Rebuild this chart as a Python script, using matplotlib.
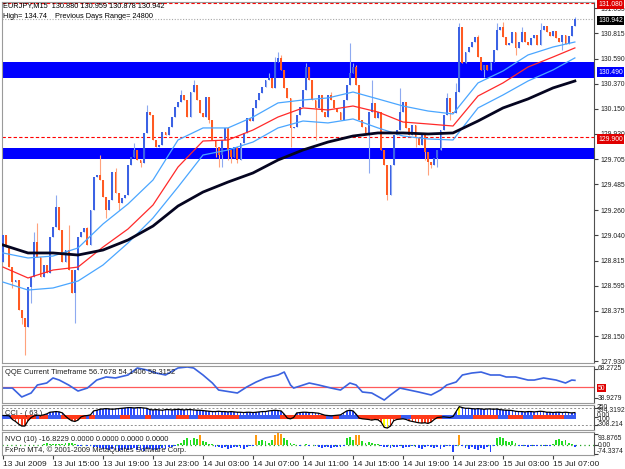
import numpy as np
import matplotlib
matplotlib.use('Agg')
import matplotlib.pyplot as plt
from matplotlib.patches import Rectangle

plt.rcParams['font.family'] = ['Liberation Sans', 'DejaVu Sans']

# EURJPY M15, 184 bars from 13 Jul 11:00 to 15 Jul 08:45
first_open = 128.802
closes = [
    129.040, 128.934, 128.758, 128.626, 128.644, 128.380, 128.310, 128.230, 128.582, 128.670,
    128.978, 128.846, 128.670, 128.776, 128.706, 129.022, 129.110, 129.286, 129.084, 128.802,
    128.908, 128.732, 128.530, 128.732, 129.022, 129.066, 129.102, 128.952, 129.260, 129.550,
    129.568, 129.524, 129.374, 129.260, 129.348, 129.594, 129.410, 129.322, 129.366, 129.392,
    129.656, 129.726, 129.788, 129.700, 129.674, 129.938, 130.122, 130.096, 129.876, 129.814,
    129.832, 129.946, 129.920, 129.990, 130.078, 130.166, 130.210, 130.272, 130.228, 130.078,
    130.298, 130.360, 130.228, 130.114, 130.078, 130.254, 130.052, 129.876, 129.814, 129.744,
    129.876, 129.982, 129.788, 129.726, 129.814, 129.700, 129.850, 129.938, 130.070, 130.043,
    130.158, 130.228, 130.290, 130.342, 130.404, 130.422, 130.334, 130.562, 130.598, 130.492,
    130.334, 130.246, 129.982, 129.990, 130.096, 130.166, 130.316, 130.518, 130.404, 130.228,
    130.158, 130.272, 130.122, 130.078, 130.272, 130.228, 130.158, 130.122, 130.052, 130.228,
    130.360, 130.466, 130.518, 130.360, 130.052, 129.990, 129.938, 130.122, 130.202, 130.070,
    130.122, 129.788, 129.656, 129.392, 129.656, 129.920, 129.964, 130.122, 130.210, 129.982,
    129.920, 130.008, 129.894, 129.832, 129.920, 129.770, 129.682, 129.656, 129.718, 129.788,
    129.964, 130.096, 130.246, 130.122, 130.114, 130.298, 130.870, 130.554, 130.650, 130.694,
    130.738, 130.782, 130.606, 130.492, 130.536, 130.492, 130.562, 130.668, 130.844, 130.870,
    130.782, 130.712, 130.730, 130.826, 130.686, 130.738, 130.826, 130.738, 130.712, 130.774,
    130.800, 130.712, 130.844, 130.879, 130.826, 130.791, 130.835, 130.774, 130.738, 130.800,
    130.721, 130.791, 130.880, 130.942,
]
# wicks that reach past the body
wick_highs = {
    10: 129.066, 11: 129.146, 17: 129.392, 21: 129.128, 27: 129.110, 31: 129.744, 36: 129.630,
    42: 129.850, 46: 130.184, 57: 130.316, 61: 130.404, 85: 130.466, 87: 130.606, 88: 130.650,
    89: 130.624, 97: 130.554, 105: 130.298, 111: 130.730, 112: 130.554, 113: 130.536,
    118: 130.404, 127: 130.334, 142: 130.290, 145: 130.378, 146: 130.906, 152: 130.800,
    158: 130.906, 160: 130.914, 166: 130.870, 172: 130.906, 183: 130.959,
}
wick_lows = {
    3: 128.574, 6: 128.258, 7: 127.984, 9: 128.442, 23: 128.266, 33: 129.190, 37: 129.260,
    44: 129.638, 66: 130.026, 68: 129.726, 69: 129.638, 70: 129.638, 72: 129.700, 73: 129.674,
    75: 129.674, 92: 129.814, 100: 129.876, 117: 129.586, 123: 129.348, 132: 129.814,
    135: 129.700, 136: 129.568, 137: 129.630, 139: 129.638, 143: 130.052, 154: 130.430,
    164: 130.624, 179: 130.668, 183: 130.878,
}

# moving averages, read every 8 bars
ma_idx = [0, 8, 16, 24, 32, 40, 48, 56, 64, 72, 80, 88, 96, 104, 112, 120, 128, 136, 144,
          152, 160, 168, 176, 183]
ma_slow = [128.952, 128.882, 128.882, 128.864, 128.908, 128.996, 129.119, 129.295, 129.418,
           129.506, 129.586, 129.700, 129.788, 129.858, 129.911, 129.938, 129.938, 129.929,
           129.938, 130.043, 130.158, 130.237, 130.334, 130.395]
ma_mid = [128.758, 128.662, 128.732, 128.758, 128.934, 129.093, 129.304, 129.638, 129.867,
          129.876, 129.964, 130.078, 130.158, 130.140, 130.175, 130.122, 130.034, 130.017,
          129.999, 130.263, 130.378, 130.518, 130.606, 130.686]
band_up = [128.882, 128.838, 128.855, 128.926, 129.137, 129.313, 129.524, 129.876, 129.982,
           129.982, 130.078, 130.202, 130.228, 130.246, 130.298, 130.237, 130.175, 130.131,
           130.105, 130.378, 130.483, 130.624, 130.694, 130.738]
band_dn = [128.626, 128.556, 128.574, 128.635, 128.776, 128.970, 129.190, 129.462, 129.744,
           129.788, 129.858, 129.982, 130.043, 130.026, 130.061, 129.982, 129.911, 129.885,
           129.876, 130.158, 130.272, 130.395, 130.492, 130.598]

price_ticks = [131.035, 130.815, 130.590, 130.370, 130.150, 129.930, 129.705, 129.485,
               129.260, 129.040, 128.815, 128.595, 128.375, 128.150, 127.930]
zones = [(130.422, 130.562), (129.708, 129.805)]

qqe_idx = [0, 3, 6, 9, 11, 14, 16, 18, 21, 24, 27, 30, 33, 36, 40, 43, 46, 49, 52, 56, 59, 61,
           64, 67, 69, 73, 75, 78, 81, 84, 88, 90, 92, 93, 95, 98, 101, 105, 108, 111, 113, 115,
           118, 122, 124, 127, 130, 133, 137, 140, 142, 145, 147, 150, 153, 156, 159, 161, 164,
           168, 170, 173, 177, 180, 182, 183]
qqe_val = [49.0, 49.0, 40.0, 44.0, 52.1, 54.1, 59.2, 57.1, 52.1, 46.0, 49.0, 57.1, 60.2, 59.2,
           62.2, 69.3, 67.3, 64.2, 62.2, 69.3, 70.3, 69.3, 62.2, 54.1, 47.0, 45.0, 44.0, 50.1,
           55.1, 59.2, 62.2, 65.2, 52.1, 49.0, 51.0, 54.1, 52.1, 49.0, 47.0, 54.1, 52.1, 45.0,
           44.0, 36.9, 42.0, 49.0, 47.0, 45.0, 42.0, 47.0, 52.1, 55.1, 62.2, 64.2, 65.2, 62.2,
           62.2, 60.2, 60.2, 57.1, 57.1, 59.2, 57.1, 54.1, 57.1, 56.8]

cci = [
    20, 20, 15, -40, -70, -110, -140, -140, -60, -10, 15, 25, 20, 30, 45, 70, 75, 80, 75, 60,
    10, -30, -60, -70, -50, 0, 15, 20, 30, 90, 100, 115, 120, 125, 120, 115, 120, 125, 130, 135,
    140, 140, 135, 140, 140, 135, 130, 110, 105, 110, 105, 100, 110, 110, 105, 110, 115, 110,
    105, 110, 110, 105, 100, 100, 95, 90, 85, 80, 80, 85, 80, 80, 75, 80, 75, 70, 70, 65, 70,
    70, 65, 70, 75, 80, 80, 90, 95, 100, 95, 90, 40, -20, -30, -10, 60, 65, 70, 70, 65, 65, 60,
    55, 40, 25, 20, 15, 20, 25, 30, 60, 90, 100, 90, 40, -20, -30, -35, -40, -50, -40, -45,
    -80, -160, -170, -140, -60, -40, -35, -30, -40, -60, -70, -80, -90, -95, -90, -100, -80,
    -40, -10, -5, 0, -5, -10, 5, 80, 155, 140, 130, 130, 125, 120, 125, 120, 115, 120, 120,
    115, 120, 110, 105, 100, 100, 95, 85, 80, 80, 75, 80, 80, 75, 80, 85, 80, 70, 70, 65, 70,
    70, 65, 70, 65, 60, 65,
]
cci_strip = [(0, 2, 'b'), (3, 10, 'r'), (11, 11, 'b'), (12, 14, 'r'), (15, 18, 'b'),
             (19, 26, 'r'), (27, 27, 'b'), (28, 29, 'r'), (30, 37, 'b'), (38, 40, 'r'),
             (41, 45, 'b'), (46, 47, 'r'), (48, 55, 'b'), (56, 59, 'r'), (60, 62, 'b'),
             (63, 75, 'r'), (76, 88, 'b'), (89, 103, 'r'), (104, 105, 'b'), (106, 107, 'r'),
             (108, 113, 'b'), (114, 127, 'r'), (128, 130, 'b'), (131, 140, 'r'),
             (141, 150, 'b'), (151, 158, 'r'), (159, 161, 'b'), (162, 166, 'r'),
             (167, 169, 'b'), (170, 179, 'r'), (180, 183, 'b')]

nvo = [
    0, 0, 0, 0, 0, 0, 0, 0, 0, 0, 0, 0, 0, 10, 15, 12, 8, 10, 12, 5, 20, 15, 18, 10, -5, -8, 0,
    -10, -12, -15, -20, -25, -30, -35, -40, -30, -45, -50, -40, -35, -45, -30, -25, -40, -45,
    -50, -35, -30, -40, -45, -30, -25, -35, -20, -15, -10, 5, 20, 45, 55, 40, 60, 50, 80, 30,
    25, 10, 5, -15, -20, -25, -20, -30, -25, -20, -15, -25, -30, -20, -10, -5, 85, 30, 40, 35,
    20, 40, 85, 100, 90, 60, 45, 20, 5, 0, -8, 0, 10, -5, 0, -10, -20, -25, -15, -20, -25, -20,
    -15, -20, -10, 60, 65, 40, 80, 85, 35, 20, 25, 15, 10, 5, -10, -15, -20, -25, -15, -20,
    -10, -25, -20, -15, -10, -20, -25, -30, -15, -10, -20, -25, -15, -30, -20, -10, -5, -60,
    -10, 80, -5, -25, -35, -20, -30, -40, -25, -35, -20, -55, -10, 60, 65, 55, 30, 25, 35, 20,
    -8, -12, -5, -15, -10, -8, -12, -5, -10, -8, -5, 5, 40, 50, 35, 45, 20, 10, -20,
]

time_ticks = [0, 16, 32, 48, 64, 80, 96, 112, 128, 144, 160, 176]
time_labels = ['13 Jul 2009', '13 Jul 15:00', '13 Jul 19:00', '13 Jul 23:00', '14 Jul 03:00',
               '14 Jul 07:00', '14 Jul 11:00', '14 Jul 15:00', '14 Jul 19:00', '14 Jul 23:00',
               '15 Jul 03:00', '15 Jul 07:00']

W, H = 625, 469
LBL = 4.9   # right-hand scale font size
fig = plt.figure(figsize=(W / 100, H / 100), dpi=100)
fig.patch.set_facecolor('white')


def box(x0, y0, x1, y1):
    return [x0 / W, 1 - y1 / H, (x1 - x0) / W, (y1 - y0) / H]


def fy(y):
    return 1 - y / H


ax = fig.add_axes(box(2, 2, 594, 363))
ax_q = fig.add_axes(box(2, 366, 594, 403))
ax_c = fig.add_axes(box(2, 405, 594, 430))
ax_n = fig.add_axes(box(2, 432, 594, 455))
for a in (ax, ax_q, ax_c, ax_n):
    a.set_xlim(-0.32, 189.12)
    for side in ('top', 'left', 'bottom'):
        a.spines[side].set_color('#9a9a9a')
    a.spines['right'].set_color('#505050')
    a.tick_params(axis='x', bottom=False, labelbottom=False)
    a.tick_params(axis='y', left=False, labelleft=False, right=True, labelright=False,
                  length=3, color='#404040', width=0.8)

# ---- main price chart
x = np.arange(len(closes))
c = np.array(closes)
o = np.r_[first_open, c[:-1]]
hi = np.maximum(o, c)
lo = np.minimum(o, c)
for k, v in wick_highs.items():
    hi[k] = v
for k, v in wick_lows.items():
    lo[k] = v
up = c >= o

for z0, z1 in zones:
    ax.axhspan(z0, z1, color='#0000ff', zorder=0.5, lw=0)
ax.axhline(131.080, color='red', ls=(0, (3, 2)), lw=0.8, zorder=1)
ax.axhline(129.900, color='red', ls=(0, (3, 2)), lw=0.8, zorder=1)
ax.axhline(130.942, color='#a8a8a8', ls=(0, (1, 1.5)), lw=0.8, zorder=1)

ax.vlines(x, lo, hi, colors=np.where(up, '#8eaaf0', '#ffa27c'), lw=0.8, zorder=2)
ax.bar(x, np.maximum(np.abs(c - o), 0.006), bottom=np.minimum(o, c), width=0.62,
       color=np.where(up, '#3c62e4', '#ff5a22'), lw=0, zorder=3)

ax.plot(ma_idx, band_up, color='#4aa6ff', lw=0.9, zorder=4)
ax.plot(ma_idx, band_dn, color='#4aa6ff', lw=0.9, zorder=4)
ax.plot(ma_idx, ma_mid, color='#ff2a2a', lw=0.9, zorder=4)
ax.plot(ma_idx, ma_slow, color='#050520', lw=2.0, zorder=5)

ax.set_ylim(127.914, 131.090)
ax.set_yticks(price_ticks)
ax.set_yticklabels([f'{p:.3f}' for p in price_ticks])
ax.tick_params(axis='y', labelright=True, labelsize=LBL, pad=1.5, labelcolor='#202020')

fig.text(3 / W, fy(6), 'EURJPY,M15  130.880 130.959 130.878 130.942', fontsize=5.3,
         va='center', color='black')
fig.text(3 / W, fy(16), 'High= 134.74    Previous Days Range= 24800', fontsize=5.3,
         va='center', color='black')

tag = dict(fontsize=LBL, va='center', ha='left', color='white')
fig.text(598 / W, fy(4.5), '131.080', bbox=dict(fc='#e00000', ec='none',
         boxstyle='square,pad=0.2'), **tag)
fig.text(598 / W, fy(20.5), '130.942', bbox=dict(fc='black', ec='none',
         boxstyle='square,pad=0.2'), **tag)
fig.text(598 / W, fy(72), '130.490', bbox=dict(fc='#0000ff', ec='none',
         boxstyle='square,pad=0.2'), **tag)
fig.text(598 / W, fy(139), '129.900', bbox=dict(fc='#e00000', ec='none',
         boxstyle='square,pad=0.2'), **tag)

# ---- QQE
ax_q.axhline(50, color='#ff5a5a', lw=0.9)
ax_q.plot(qqe_idx, qqe_val, color='#3a62e0', lw=1.2)
ax_q.set_ylim(33.9, 71.3)
ax_q.set_yticks([68.2725, 38.9279])
fig.text(5 / W, fy(373), 'QQE Current Timeframe 56.7678 54.1406 58.3152', fontsize=5.4,
         va='center', color='#202020')
lab = dict(fontsize=LBL, va='center', ha='left', color='#202020')
fig.text(598 / W, fy(369), '68.2725', **lab)
fig.text(598 / W, fy(398), '38.9279', **lab)
fig.text(598 / W, fy(388), '50', bbox=dict(fc='#e00000', ec='none',
         boxstyle='square,pad=0.12'), fontsize=LBL, va='center', ha='left', color='white')

# ---- CCI
cv = np.array(cci)
xc = np.arange(len(cci))
cci_col = np.where(np.abs(cv) >= 150, '#ffff00', np.where(cv >= 0, '#2d4dff', '#ff3a1a'))
ax_c.bar(xc, cv, width=0.55, color=cci_col, lw=0, zorder=2)
for s, e, col in cci_strip:
    ax_c.add_patch(Rectangle((s - 0.5, -35), e - s + 1, 70, lw=0, zorder=3,
                             color='#3a5cf2' if col == 'b' else '#ff3a1a'))
ax_c.plot(xc, cv, color='black', lw=0.9, zorder=4)
for lev in (130, -130):
    ax_c.axhline(lev, color='#909090', ls=(0, (2, 2)), lw=0.7, zorder=1)
ax_c.set_ylim(-200, 180)
ax_c.set_yticks([130, 0, -130])
fig.text(5 / W, fy(413), 'CCI - ( 63 )', fontsize=5.4, va='center', color='#202020', zorder=5)
# the scale labels of this window sit on top of one another, as in the terminal
fig.text(597 / W, fy(407.5), '250', **lab)
fig.text(597 / W, fy(410), '394.3192', **lab)
fig.text(597 / W, fy(415.5), '0.00', **lab)
fig.text(597 / W, fy(419.5), '-100', **lab)
fig.text(597 / W, fy(424.5), '-308.214', **lab)

# ---- NVO
nv = np.array(nvo)
xn = np.arange(len(nvo))
nvo_col = np.where(nv > 70, '#ff9a10', np.where(nv > 0, '#22dd22', '#2040ff'))
ax_n.axhline(0, color='#20a020', ls=(0, (1, 2.5)), lw=0.9, zorder=1)
ax_n.bar(xn, nv, width=0.6, color=nvo_col, lw=0, zorder=2)
ax_n.set_ylim(-84, 109)
ax_n.set_yticks([93.8765, 0, -74.3374])
fig.text(5 / W, fy(439), 'NVO (10) -16.8229 0.0000 0.0000 0.0000 0.0000', fontsize=5.4,
         va='center', color='#202020')
fig.text(5 / W, fy(450), 'FxPro MT4, \u00a9 2001-2009 MetaQuotes Software Corp.', fontsize=5.4,
         va='center', color='#202020')
fig.text(598 / W, fy(438), '93.8765', **lab)
fig.text(598 / W, fy(445), '0.00', **lab)
fig.text(597 / W, fy(451), '-74.3374', **lab)

ax_n.set_xticks(time_ticks)
ax_n.set_xticklabels(time_labels)
ax_n.tick_params(axis='x', bottom=True, labelbottom=True, length=3, pad=1, labelsize=6,
                 color='#404040', labelcolor='#202020')
for t in ax_n.get_xticklabels():
    t.set_ha('left')

fig.savefig('out.png', dpi=100)
